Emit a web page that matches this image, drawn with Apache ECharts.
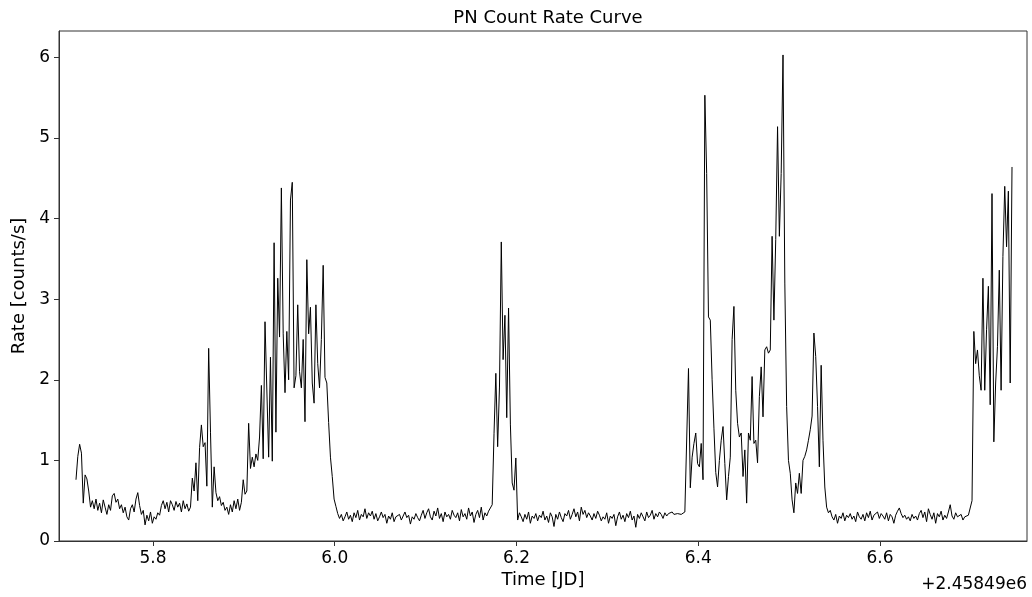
<!DOCTYPE html>
<html>
<head>
<meta charset="utf-8">
<title>PN Count Rate Curve</title>
<script src="https://cdn.jsdelivr.net/npm/echarts@6/dist/echarts.min.js"></script>
<style>
  html, body { margin: 0; padding: 0; background: #fff; }
  #chart { width: 1032px; height: 597px; }
</style>
</head>
<body>
<div id="chart"></div>
<script>
// time axis: JD - 2458490, one bin every 0.002 d
const t0 = 5.7153
const dt = 0.002

// quiet start with a small bump at the very beginning
const rateEarly = [
  0.76, 1.05, 1.20, 1.09, 0.47, 0.82, 0.77, 0.62, 0.42,
  0.50, 0.40, 0.52, 0.38, 0.47, 0.35, 0.51, 0.42, 0.33, 0.45,
  0.38, 0.56, 0.59, 0.48, 0.52, 0.40, 0.45, 0.35, 0.42, 0.30,
  0.26, 0.40, 0.45, 0.36, 0.52, 0.60, 0.44, 0.33, 0.38, 0.20,
  0.32, 0.25, 0.36, 0.22, 0.30, 0.27, 0.35, 0.32, 0.44, 0.50,
  0.40, 0.48, 0.36, 0.50, 0.45, 0.38, 0.49, 0.42, 0.47, 0.36,
  0.50, 0.40, 0.46, 0.37
]

// first flaring episode (~5.86 - 6.00)
const rateFlare1 = [
  0.42, 0.78, 0.62, 0.97, 0.50, 1.16, 1.44, 1.17, 1.22, 0.68,
  2.39, 1.35, 0.42, 0.92, 0.60, 0.50, 0.55, 0.44, 0.48, 0.38,
  0.42, 0.33, 0.45, 0.36, 0.50, 0.40, 0.52, 0.38, 0.48, 0.76,
  0.58, 0.62, 1.46, 0.90, 1.04, 0.92, 1.08, 1.00, 1.29, 1.93,
  1.02, 2.72, 2.70, 1.04, 2.28, 0.99, 3.70, 1.35, 3.26, 2.53,
  4.38, 2.57, 1.84, 2.60, 2.00, 4.23, 4.45, 1.90, 2.05, 2.93,
  2.10, 1.90, 2.50, 1.48, 3.49, 2.57, 2.90, 1.96, 1.71, 2.93,
  2.20, 1.90, 2.50, 3.42, 2.03, 1.96, 1.47, 1.04, 0.80, 0.52,
  0.43
]

const rateQuiet1 = [
  0.34, 0.28, 0.33, 0.25, 0.30, 0.36, 0.27, 0.32, 0.24, 0.35,
  0.29, 0.38, 0.26, 0.33, 0.30, 0.40, 0.28, 0.35, 0.31, 0.37,
  0.27, 0.34, 0.25, 0.30, 0.36, 0.29, 0.33, 0.22, 0.31, 0.27,
  0.35, 0.24, 0.30, 0.28, 0.33, 0.26, 0.31, 0.36, 0.29, 0.32,
  0.21, 0.30, 0.27, 0.34, 0.29, 0.25, 0.32, 0.38, 0.28, 0.35,
  0.40, 0.30, 0.26, 0.37, 0.31, 0.41, 0.28, 0.34, 0.24, 0.36,
  0.30, 0.33, 0.27, 0.38, 0.32, 0.29, 0.35, 0.25, 0.39, 0.30,
  0.34, 0.27, 0.41, 0.31, 0.36, 0.23, 0.33, 0.38, 0.29, 0.42,
  0.26, 0.35, 0.31, 0.37
]

// short flare near 6.18
const rateFlare2 = [
  0.38, 0.45, 1.33, 2.08, 1.17, 1.91, 3.71, 2.25, 2.80, 1.53,
  2.89, 1.45, 0.72, 0.63, 1.03, 0.26, 0.35
]

const rateQuiet2 = [
  0.30, 0.24, 0.33, 0.27, 0.36, 0.22, 0.31, 0.28, 0.34, 0.25,
  0.32, 0.29, 0.37, 0.26, 0.31, 0.23, 0.35, 0.30, 0.18, 0.33,
  0.27, 0.36, 0.29, 0.24, 0.34, 0.31, 0.38, 0.27, 0.33, 0.40,
  0.30, 0.36, 0.25, 0.42, 0.33, 0.38, 0.29, 0.35, 0.31, 0.26,
  0.34, 0.28, 0.37, 0.32, 0.25, 0.30, 0.27, 0.35, 0.22, 0.31,
  0.28, 0.33, 0.19, 0.30, 0.36, 0.27, 0.32, 0.24, 0.34, 0.29,
  0.37, 0.26, 0.31, 0.17, 0.33, 0.28, 0.35, 0.30, 0.25, 0.36,
  0.29, 0.32, 0.38, 0.27, 0.34, 0.30, 0.36, 0.33, 0.28, 0.35,
  0.31, 0.34, 0.32, 0.36, 0.33, 0.35, 0.34, 0.36, 0.33, 0.35,
  0.36
]

// big flaring episode (~6.39 - 6.53)
const rateFlare3 = [
  0.38, 2.14, 0.66, 1.04, 1.21, 1.34, 0.96, 0.92, 1.21, 0.76,
  5.53, 4.56, 2.78, 2.74, 2.00, 1.40, 0.85, 0.67, 1.00, 1.25,
  1.42, 0.96, 0.51, 0.80, 1.04, 2.50, 2.91, 1.87, 1.46, 1.29,
  1.34, 0.80, 1.13, 0.47, 1.34, 1.25, 2.04, 1.21, 1.25, 0.97,
  1.79, 2.16, 1.54, 2.37, 2.41, 2.33, 2.37, 3.78, 2.74, 3.74,
  5.14, 3.78, 4.56, 6.03, 3.20, 1.67, 1.00, 0.84, 0.51, 0.35,
  0.72, 0.59, 0.84, 0.59, 1.00, 1.05, 1.13, 1.25, 1.38, 1.55,
  2.58, 2.29, 1.67, 0.92, 2.18, 1.25, 0.67, 0.42, 0.35, 0.38
]

const rateQuiet3 = [
  0.30, 0.26, 0.33, 0.22, 0.31, 0.28, 0.35, 0.25, 0.32, 0.29,
  0.34, 0.27, 0.31, 0.24, 0.36, 0.30, 0.27, 0.33, 0.25, 0.35,
  0.29, 0.37, 0.26, 0.32, 0.30, 0.36, 0.28, 0.34, 0.31, 0.27,
  0.35, 0.25, 0.33, 0.30, 0.22, 0.32, 0.37, 0.41, 0.34, 0.29,
  0.32, 0.27, 0.30, 0.25, 0.33, 0.28, 0.31, 0.26, 0.34, 0.38,
  0.29, 0.36, 0.24, 0.40, 0.33, 0.27, 0.35, 0.22, 0.34, 0.30,
  0.37, 0.26, 0.32, 0.28, 0.36, 0.45, 0.31, 0.27, 0.35, 0.30,
  0.28, 0.33, 0.26, 0.30, 0.28, 0.32
]

// flare still going at the end of the observation
const rateFlare4 = [
  0.30, 0.50, 2.60, 2.20, 2.37, 2.05, 1.87, 3.26, 1.87, 2.62,
  3.16, 1.69, 4.31, 1.23, 1.96, 2.41, 3.36, 1.87, 3.53, 4.40,
  3.65, 4.34, 1.96, 4.64
]

const rate = [].concat(rateEarly, rateFlare1, rateQuiet1, rateFlare2,
  rateQuiet2, rateFlare3, rateQuiet3, rateFlare4)

const yTicks = [0, 1, 2, 3, 4, 5, 6]

const font = 'DejaVu Sans'
const axisColor = '#333'

const chart = echarts.init(document.getElementById('chart'), null, { renderer: 'canvas' })

const option = {
  backgroundColor: '#fff',
  animation: false,
  grid: {
    left: 59,
    right: 5,
    top: 31,
    bottom: 56,
    show: true,
    borderColor: axisColor,
    borderWidth: 1,
    backgroundColor: 'transparent',
  },
  title: {
    text: 'PN Count Rate Curve',
    left: 543,
    top: 4,
    textAlign: 'center',
    textStyle: { fontFamily: font, fontSize: 18, fontWeight: 'normal', color: '#000' },
  },
  xAxis: {
    type: 'value',
    min: 5.6966,
    max: 6.7618,
    splitNumber: 5,
    axisLine: { show: true, lineStyle: { color: axisColor, width: 1 } },
    axisTick: { show: true, length: 5, lineStyle: { color: axisColor } },
    axisLabel: {
      showMinLabel: false,
      showMaxLabel: false,
      margin: 9,
      fontFamily: font,
      fontSize: 17,
      color: '#000',
      formatter: (v) => v.toFixed(1),
    },
    splitLine: { show: false },
  },
  yAxis: {
    type: 'value',
    min: 0,
    max: 6.327,
    interval: 1,
    axisLine: { show: true, lineStyle: { color: axisColor, width: 1 } },
    axisTick: { show: true, length: 5, lineStyle: { color: axisColor } },
    axisLabel: {
      showMaxLabel: false,
      margin: 9,
      fontFamily: font,
      fontSize: 17,
      color: '#000',
      formatter: (v) => (yTicks.includes(v) ? String(v) : ''),
    },
    splitLine: { show: false },
  },
  graphic: [
    {
      type: 'text',
      x: 543,
      y: 580,
      style: {
        text: 'Time [JD]',
        fontFamily: font,
        fontSize: 18,
        fill: '#000',
        align: 'center',
        verticalAlign: 'middle',
      },
    },
    {
      type: 'text',
      right: 5,
      top: 576,
      style: { text: '+2.45849e6', fontFamily: font, fontSize: 17, fill: '#000' },
    },
    {
      type: 'text',
      x: 19,
      y: 286,
      rotation: Math.PI / 2,
      style: {
        text: 'Rate [counts/s]',
        fontFamily: font,
        fontSize: 18,
        fill: '#000',
        align: 'center',
        verticalAlign: 'middle',
      },
    },
  ],
  series: [
    {
      type: 'line',
      data: rate.map((v, i) => [+(t0 + i * dt).toFixed(4), v]),
      showSymbol: false,
      symbol: 'none',
      lineStyle: { color: '#000', width: 1 },
      silent: true,
    },
  ],
}

chart.setOption(option)
</script>
</body>
</html>
